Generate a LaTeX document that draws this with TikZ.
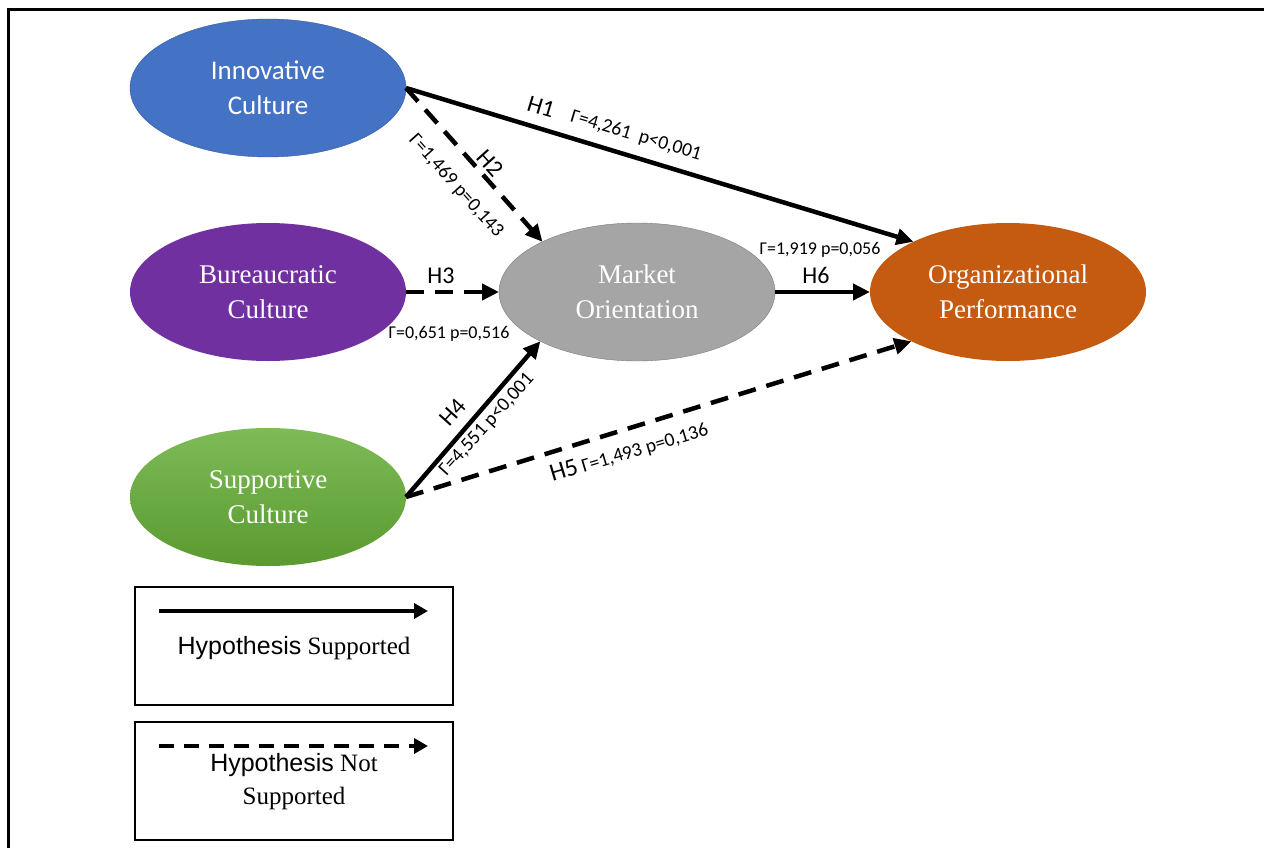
\documentclass[tikz,border=0pt]{standalone}
\usepackage{fontspec}
\setmainfont{Liberation Serif}
\newfontfamily\calibri{Carlito}
\newfontfamily\legsans{Liberation Sans}
\usetikzlibrary{shapes.geometric,arrows.meta,positioning,calc}

\definecolor{innoblue}{HTML}{4472C4}
\definecolor{bureaupurple}{HTML}{7030A0}
\definecolor{supptop}{HTML}{7DBB57}
\definecolor{suppbottom}{HTML}{5A9A30}
\definecolor{marketgray}{HTML}{A5A5A5}
\definecolor{perforange}{HTML}{C55A11}

\tikzset{
  construct/.style = {ellipse, minimum width=276pt, minimum height=138pt, inner sep=0pt, outer sep=0pt,
    align=center, text=white, font=\fontsize{27}{35}\selectfont},
  supported/.style = {line width=4.5pt, -{Triangle[length=17pt,width=16pt]}},
  notsupported/.style = {supported, dash pattern=on 18pt off 11pt},
  hlab/.style = {font=\calibri\fontsize{24}{24}\selectfont, inner sep=0pt},
  stat/.style = {font=\calibri\fontsize{18}{18}\selectfont, inner sep=0pt},
  slopedstat/.style = {stat, font=\calibri\fontsize{19.5}{19.5}\selectfont},
  legbox/.style = {draw, line width=2pt, minimum width=318pt, minimum height=118pt, inner sep=0pt},
}

\begin{document}
\begin{tikzpicture}[x=1pt, y=-1pt]
  \useasboundingbox (0,0) rectangle (1264,848);
  \draw[line width=3pt] (8,848) -- (8,10) -- (1264,10);

  % constructs
  \node[construct, fill=innoblue, draw=innoblue!80!black, font=\calibri\fontsize{27}{35}\selectfont] (inno) at (268,88) {Innovative\\Culture};
  \node[construct, fill=bureaupurple, below = 66pt of inno] (bureau) {Bureaucratic\\Culture};
  \node[construct, top color=supptop, bottom color=suppbottom, below = 67pt of bureau] (supp) {Supportive\\Culture};
  \node[construct, fill=marketgray, draw=marketgray!75!black, right = 93pt of bureau] (market) {Market\\Orientation};
  \node[construct, fill=perforange, right = 95pt of market] (perf) {Organizational\\Performance};

  % hypotheses
  \draw[supported] (inno.east) -- (perf.152);
  \draw[notsupported] (inno.east) -- (market.152);
  \draw[notsupported] (bureau.east) -- (market.west);
  \draw[supported] (supp.east) -- (market.207);
  \draw[notsupported] (supp.east) -- (perf.207);
  \draw[supported] (market.east) -- (perf.west);

  \node[hlab, rotate=-16.7] (h1) at (541,107) {H1};
  \node[slopedstat, rotate=-16.7] (h1stat) at (636,136) {Γ=4,261~~p<0,001};
  \node[hlab, rotate=-48] (h2) at (490,163) {H2};
  \node[slopedstat, rotate=-48] (h2stat) at (456,186) {Γ=1,469 p=0,143};
  \node[hlab] (h3) at (441,276) {H3};
  \node[stat] (h3stat) at (449,334) {Γ=0,651 p=0,516};
  \node[hlab, rotate=48] (h4) at (453,412) {H4};
  \node[slopedstat, rotate=48] (h4stat) at (487,425) {Γ=4,551 p<0,001};
  \node[slopedstat, rotate=16.8] (h5) at (629,452) {{\fontsize{25}{25}\selectfont H5} Γ=1,493 p=0,136};
  \node[stat] (h6stat) at (820,250) {Γ=1,919 p=0,056};
  \node[hlab] (h6) at (816,275) {H6};

  % legend
  \node[legbox] (leg1) at (294,646) {};
  \node[legbox, below = 15pt of leg1] (leg2) {};
  \coordinate (leg1a) at ($(leg1.north west)+(25,25)$);
  \coordinate (leg1b) at ($(leg1.north east)+(-26,25)$);
  \coordinate (leg2a) at ($(leg2.north west)+(25,25)$);
  \coordinate (leg2b) at ($(leg2.north east)+(-26,25)$);
  \draw[line width=4.5pt, -{Triangle[length=14pt,width=15pt]}] (leg1a) -- (leg1b);
  \draw[line width=4.5pt, dash pattern=on 15pt off 10pt, -{Triangle[length=14pt,width=15pt]}] (leg2a) -- (leg2b);
  \node[font=\fontsize{25}{33}\selectfont] (leg1txt) at (294,648) {{\legsans Hypothesis} Supported};
  \node[font=\fontsize{25}{33}\selectfont, align=center] (leg2txt) at (294,782) {{\legsans Hypothesis} Not\\Supported};
\end{tikzpicture}
\end{document}
